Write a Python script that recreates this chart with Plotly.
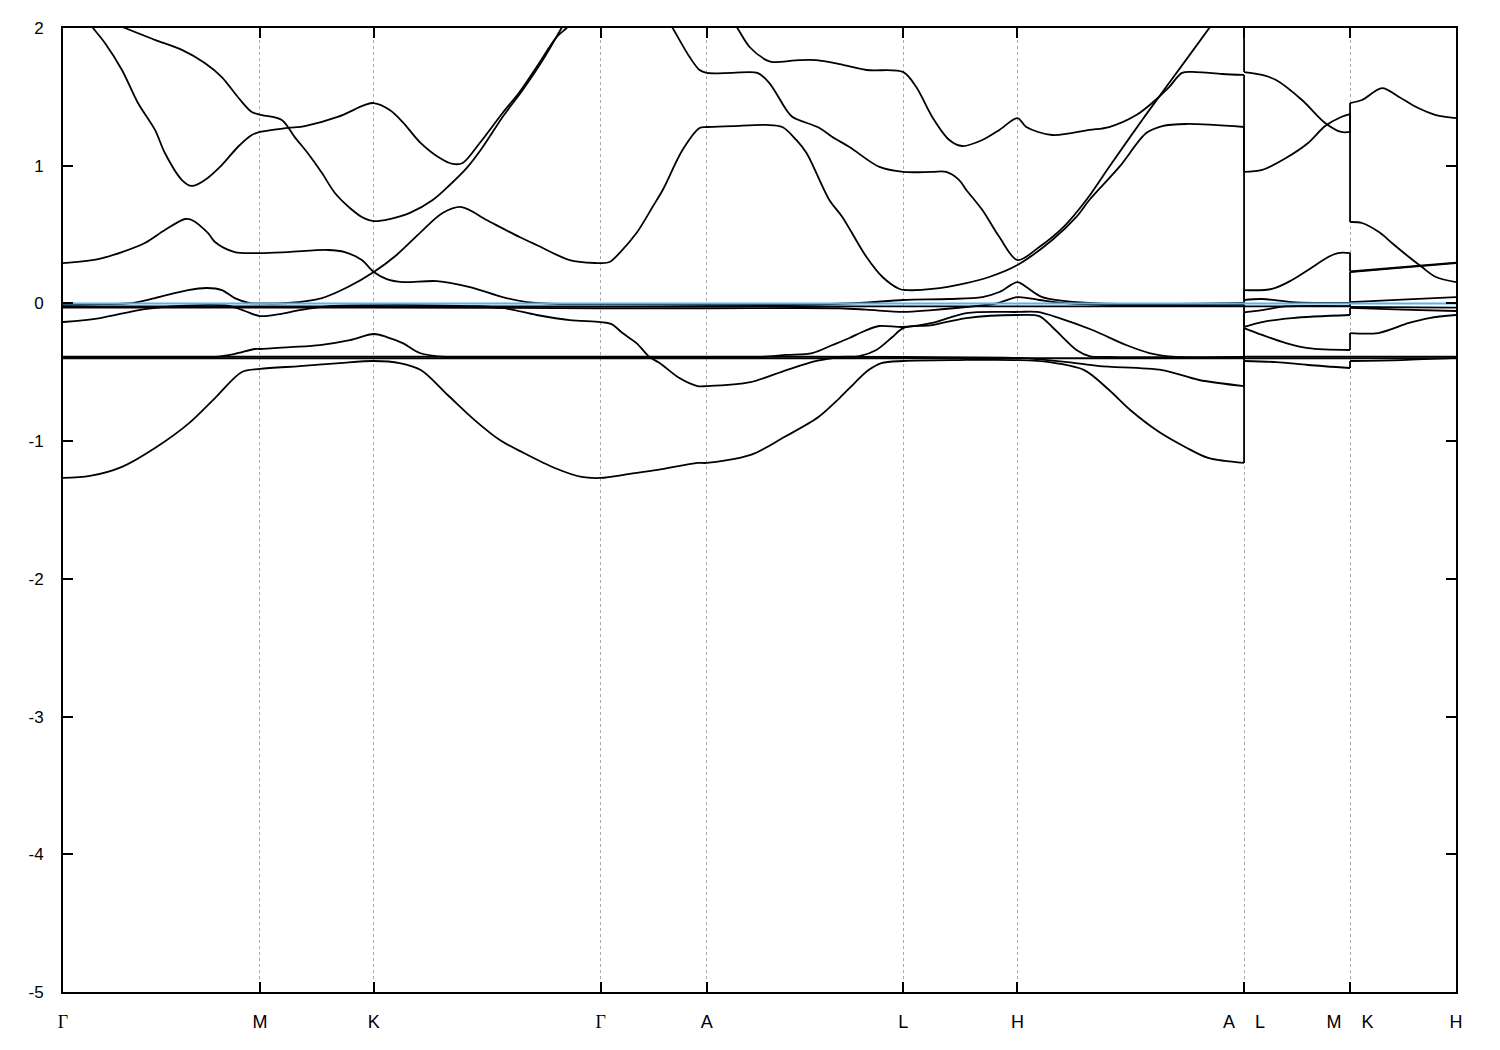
import plotly.graph_objects as go

# High-symmetry points along the k-path
sym_k = [0.0, 0.578, 0.912, 1.578, 1.889, 2.466, 2.801, 3.466, 3.777, 4.088]
sym_labels = ["<span style='font-family:Liberation Serif'>Γ</span>", "M", "K",
              "<span style='font-family:Liberation Serif'>Γ</span>", "A", "L", "H",
              "A\u00a0\u00a0\u00a0\u00a0L", "M\u00a0\u00a0\u00a0\u00a0K", "H"]
y_ticks = [-5, -4, -3, -2, -1, 0, 1, 2]
y_labels = ["-5", "-4", "-3", "-2", "-1", "0", "1", "2"]
e_fermi = 0.0

# Bands: k-path coordinate and energy (eV); repeated k marks a path discontinuity
band01_k = [0, 0.079, 0.173, 0.270, 0.370, 0.446, 0.525, 0.578, 0.695, 0.812, 0.912, 0.988, 1.050, 1.129,
            1.208, 1.282, 1.352, 1.443, 1.522, 1.578, 1.663, 1.745, 1.862, 1.889, 2.018, 2.117, 2.217, 2.279,
            2.323, 2.364, 2.402, 2.466, 2.630, 2.801, 2.894, 2.997, 3.070, 3.132, 3.217, 3.293, 3.361, 3.466,
            3.466, 3.560, 3.654, 3.777,
            3.777, 3.930, 4.088]
band01_e = [-1.267, -1.253, -1.187, -1.050, -0.869, -0.687, -0.498, -0.476, -0.455, -0.433, -0.418, -0.433,
            -0.484, -0.665, -0.847, -0.992, -1.086, -1.195, -1.260, -1.267, -1.238, -1.209, -1.158, -1.158,
            -1.100, -0.970, -0.825, -0.687, -0.578, -0.484, -0.433, -0.418, -0.411, -0.411, -0.426, -0.484,
            -0.629, -0.774, -0.934, -1.042, -1.122, -1.158,
            -0.418, -0.426, -0.447, -0.469,
            -0.418, -0.411, -0.396]

band02_k = [0, 0.578, 0.912, 1.578, 1.889, 2.466, 2.801, 2.948, 3.041, 3.226, 3.334, 3.466,
            3.466, 3.777,
            3.777, 4.088]
band02_e = [-0.386, -0.386, -0.386, -0.386, -0.386, -0.389, -0.396, -0.426, -0.455, -0.484, -0.556, -0.600,
            -0.386, -0.386,
            -0.386, -0.386]

band03_k = [0, 0.578, 0.912, 1.578, 1.889, 2.466, 2.801, 3.466,
            3.466, 3.777,
            3.777, 4.088]
band03_e = [-0.398, -0.398, -0.398, -0.398, -0.398, -0.398, -0.398, -0.398,
            -0.398, -0.398,
            -0.398, -0.398]

band04_k = [0, 0.109, 0.240, 0.402, 0.490, 0.534, 0.578, 0.636, 0.695, 0.783, 0.912, 1.047, 1.194, 1.290,
            1.390, 1.487, 1.578, 1.610, 1.642, 1.683, 1.721, 1.751, 1.809, 1.862, 1.889, 2.018, 2.123, 2.211,
            2.279, 2.337, 2.387, 2.434, 2.466, 2.551, 2.651, 2.801, 2.865, 2.903, 2.933, 2.974, 3.012, 3.070,
            3.466,
            3.466, 3.519, 3.589, 3.654, 3.777,
            3.777, 3.860, 3.950, 4.010, 4.088]
band04_e = [-0.135, -0.106, -0.041, -0.012, -0.019, -0.055, -0.092, -0.077, -0.048, -0.019, -0.012, -0.012,
            -0.019, -0.033, -0.084, -0.121, -0.135, -0.150, -0.215, -0.288, -0.389, -0.433, -0.542, -0.600,
            -0.600, -0.571, -0.484, -0.418, -0.389, -0.382, -0.338, -0.244, -0.179, -0.157, -0.106, -0.084,
            -0.092, -0.171, -0.244, -0.338, -0.382, -0.389, -0.389,
            -0.179, -0.229, -0.288, -0.324, -0.338,
            -0.215, -0.215, -0.142, -0.106, -0.084]

band05_k = [0, 0.255, 0.446, 0.504, 0.563, 0.578, 0.666, 0.754, 0.842, 0.912, 0.950, 0.997, 1.047, 1.126,
            1.578, 1.889, 2.044, 2.123, 2.199, 2.258, 2.308, 2.352, 2.396, 2.466, 2.551, 2.651, 2.801, 2.859,
            2.924, 3.021, 3.120, 3.188, 3.267, 3.466,
            3.466, 3.519, 3.589, 3.777,
            3.777, 4.088]
band05_e = [-0.389, -0.389, -0.389, -0.367, -0.331, -0.331, -0.317, -0.302, -0.266, -0.222, -0.244, -0.288,
            -0.360, -0.389, -0.389, -0.389, -0.389, -0.374, -0.360, -0.302, -0.251, -0.200, -0.164, -0.171,
            -0.142, -0.070, -0.062, -0.062, -0.106, -0.193, -0.302, -0.360, -0.389, -0.389,
            -0.065, -0.048, -0.022, -0.020,
            -0.026, -0.030]

band06_k = [0, 0.578, 0.912, 1.578, 1.889, 2.279, 2.358, 2.466, 2.551, 2.651, 2.740, 2.801, 2.865, 2.950,
            3.050, 3.466,
            3.466, 3.519, 3.607, 3.777,
            3.777, 3.930, 4.088]
band06_e = [-0.030, -0.030, -0.030, -0.035, -0.035, -0.035, -0.045, -0.062, -0.048, -0.026, 0.000, 0.046,
            0.025, 0.000, -0.010, -0.010,
            -0.171, -0.135, -0.106, -0.084,
            -0.033, -0.045, -0.055]

band07_k = [0, 0.578, 0.912, 1.578, 1.889, 2.466, 2.801, 3.466,
            3.466, 3.777,
            3.777, 3.930, 4.088]
band07_e = [-0.022, -0.022, -0.022, -0.022, -0.022, -0.022, -0.022, -0.022,
            -0.022, -0.022,
            0.010, 0.028, 0.046]

band08_k = [0, 0.103, 0.173, 0.240, 0.299, 0.358, 0.378, 0.425, 0.446, 0.504, 0.578, 0.660, 0.777, 0.827,
            0.877, 0.912, 0.950, 0.997, 1.097, 1.194, 1.290, 1.361, 1.457, 1.578, 1.889, 2.161, 2.337, 2.466,
            2.601, 2.698, 2.748, 2.801, 2.827, 2.874, 3.012, 3.466,
            3.466, 3.548, 3.607, 3.654, 3.713, 3.742, 3.777,
            3.777, 4.088]
band08_e = [0.293, 0.322, 0.373, 0.439, 0.533, 0.613, 0.606, 0.512, 0.446, 0.373, 0.366, 0.373, 0.388, 0.373,
            0.315, 0.228, 0.177, 0.155, 0.162, 0.119, 0.046, 0.010, -0.004, -0.004, -0.010, -0.010, 0.003,
            0.025, 0.032, 0.046, 0.083, 0.155, 0.119, 0.046, 0.003, 0.003,
            0.097, 0.105, 0.170, 0.243, 0.337, 0.366, 0.366,
            0.232, 0.296]

band09_k = [0, 0.109, 0.202, 0.270, 0.367, 0.422, 0.466, 0.504, 0.548, 0.578, 0.660, 0.760, 0.836, 0.912,
            0.979, 1.047, 1.114, 1.170, 1.243, 1.340, 1.390, 1.487, 1.566, 1.578, 1.604, 1.633, 1.683, 1.730,
            1.760, 1.818, 1.868, 1.889, 1.965, 2.064, 2.111, 2.152, 2.182, 2.249, 2.287, 2.358, 2.405, 2.455,
            2.475, 2.551, 2.651, 2.718, 2.801, 2.903, 2.974, 3.012, 3.100, 3.179, 3.226, 3.296, 3.466,
            3.466, 3.519, 3.607, 3.777,
            3.777, 3.930, 4.088]
band09_e = [-0.010, -0.005, 0.003, 0.039, 0.097, 0.112, 0.097, 0.039, 0.003, 0.000, 0.003, 0.039, 0.119,
            0.228, 0.352, 0.511, 0.657, 0.700, 0.606, 0.482, 0.424, 0.315, 0.293, 0.293, 0.301, 0.366, 0.511,
            0.700, 0.824, 1.114, 1.274, 1.281, 1.288, 1.296, 1.281, 1.187, 1.092, 0.751, 0.628, 0.337, 0.192,
            0.105, 0.097, 0.105, 0.148, 0.192, 0.279, 0.461, 0.628, 0.751, 0.991, 1.237, 1.288, 1.303, 1.281,
            0.025, 0.032, 0.010, 0.003,
            0.228, 0.260, 0.293]

band10_k = [0, 0.182, 0.270, 0.349, 0.416, 0.466, 0.513, 0.554, 0.584, 0.642, 0.680, 0.718, 0.760, 0.798,
            0.842, 0.877, 0.912, 0.959, 1.018, 1.085, 1.135, 1.185, 1.232, 1.290, 1.349, 1.408, 1.463, 1.578,
            1.733, 1.889, 1.979, 2.015, 2.064, 2.082, 2.161, 2.211, 2.279, 2.358, 2.466, 2.504, 2.551, 2.601,
            2.639, 2.698, 2.748, 2.801, 2.827, 2.903, 3.012, 3.070, 3.150, 3.196, 3.246, 3.284, 3.325, 3.402,
            3.466,
            3.466, 3.519, 3.589, 3.654, 3.704, 3.751, 3.777,
            3.777, 3.812, 3.862, 3.900, 3.950, 3.988, 4.029, 4.088]
band10_e = [2.20, 2.000, 1.914, 1.841, 1.746, 1.644, 1.499, 1.390, 1.368, 1.332, 1.208, 1.092, 0.947, 0.802,
            0.693, 0.628, 0.598, 0.613, 0.657, 0.751, 0.860, 0.984, 1.136, 1.354, 1.550, 1.767, 2.000, 2.50,
            2.45, 2.35, 2.000, 1.862, 1.767, 1.753, 1.767, 1.767, 1.738, 1.695, 1.680, 1.571, 1.354, 1.187,
            1.143, 1.187, 1.260, 1.346, 1.281, 1.223, 1.260, 1.281, 1.368, 1.455, 1.571, 1.674, 1.680, 1.666,
            1.659,
            0.955, 0.969, 1.056, 1.165, 1.288, 1.354, 1.375,
            0.591, 0.584, 0.518, 0.439, 0.337, 0.264, 0.192, 0.155]

band11_k = [0, 0.088, 0.123, 0.173, 0.220, 0.270, 0.299, 0.349, 0.378, 0.416, 0.466, 0.513, 0.554, 0.578,
            0.660, 0.710, 0.806, 0.886, 0.912, 0.959, 0.997, 1.047, 1.106, 1.144, 1.173, 1.223, 1.290, 1.340,
            1.390, 1.449, 1.478, 1.578, 1.692, 1.789, 1.839, 1.868, 1.889, 1.965, 2.038, 2.073, 2.123, 2.141,
            2.220, 2.258, 2.308, 2.396, 2.466, 2.551, 2.592, 2.630, 2.651, 2.698, 2.748, 2.801, 2.865, 2.938,
            3.003, 3.070, 3.167, 3.246, 3.364, 3.466,
            3.466, 3.519, 3.560, 3.636, 3.704, 3.751, 3.777,
            3.777, 3.812, 3.871, 3.921, 3.971, 4.029, 4.088]
band11_e = [2.27, 2.000, 1.891, 1.695, 1.455, 1.260, 1.092, 0.896, 0.853, 0.896, 1.005, 1.136, 1.223, 1.245,
            1.274, 1.288, 1.354, 1.441, 1.455, 1.405, 1.317, 1.172, 1.056, 1.013, 1.020, 1.165, 1.383, 1.535,
            1.717, 1.935, 2.000, 2.22, 2.40, 2.000, 1.789, 1.695, 1.674, 1.674, 1.674, 1.600, 1.405, 1.354,
            1.274, 1.208, 1.136, 0.991, 0.955, 0.955, 0.955, 0.896, 0.824, 0.678, 0.482, 0.315, 0.410, 0.560,
            0.751, 0.991, 1.332, 1.600, 2.000, 2.35,
            1.680, 1.659, 1.622, 1.477, 1.310, 1.245, 1.245,
            1.455, 1.477, 1.564, 1.499, 1.426, 1.368, 1.346]

bands = [(band01_k, band01_e), (band02_k, band02_e), (band03_k, band03_e), (band04_k, band04_e),
         (band05_k, band05_e), (band06_k, band06_e), (band07_k, band07_e), (band08_k, band08_e),
         (band09_k, band09_e), (band10_k, band10_e), (band11_k, band11_e)]

LINE_W = 1.8
fig = go.Figure()
conn_x, conn_y = [], []
for k, e in bands:
    start = 0
    pieces = []
    for i in range(1, len(k)):
        if k[i] == k[i - 1]:
            pieces.append((k[start:i], e[start:i]))
            conn_x += [k[i - 1], k[i], None]
            conn_y += [e[i - 1], e[i], None]
            start = i
    pieces.append((k[start:], e[start:]))
    for pk, pe in pieces:
        fig.add_trace(go.Scatter(x=pk, y=pe, mode="lines",
                                 line=dict(color="black", width=LINE_W, shape="spline", smoothing=0.9),
                                 hoverinfo="skip", showlegend=False))

fig.add_trace(go.Scatter(x=conn_x, y=conn_y, mode="lines", line=dict(color="black", width=LINE_W),
                         hoverinfo="skip", showlegend=False))
fig.add_trace(go.Scatter(x=[sym_k[0], sym_k[-1]], y=[e_fermi, e_fermi], mode="lines",
                         line=dict(color="#56b4e9", width=2), hoverinfo="skip", showlegend=False))

fig.update_layout(
    width=1500, height=1050,
    margin=dict(l=63, r=44, t=28, b=58),
    plot_bgcolor="white", paper_bgcolor="white",
    showlegend=False,
    font=dict(family="Liberation Sans, Arial, sans-serif", size=17, color="black"),
)
fig.update_xaxes(range=[sym_k[0], sym_k[-1]], tickmode="array", tickvals=sym_k, ticktext=sym_labels,
                 showgrid=True, gridcolor="#a8a8a8", gridwidth=1, griddash="3px,3px",
                 ticks="inside", ticklen=10, tickwidth=1.5, tickcolor="black",
                 showline=True, linecolor="black", linewidth=2, mirror="ticks", zeroline=False,
                 ticklabelstandoff=12, tickfont=dict(size=18))
fig.update_yaxes(range=[-5, 2], tickmode="array", tickvals=y_ticks, ticktext=y_labels,
                 showgrid=False, ticks="inside", ticklen=10, tickwidth=1.5, tickcolor="black",
                 showline=True, linecolor="black", linewidth=2, mirror="ticks", zeroline=False,
                 ticklabelstandoff=14, tickfont=dict(size=17))

fig.write_html("out.html", config={"displayModeBar": False},
               post_script="document.body.style.margin='0';")
